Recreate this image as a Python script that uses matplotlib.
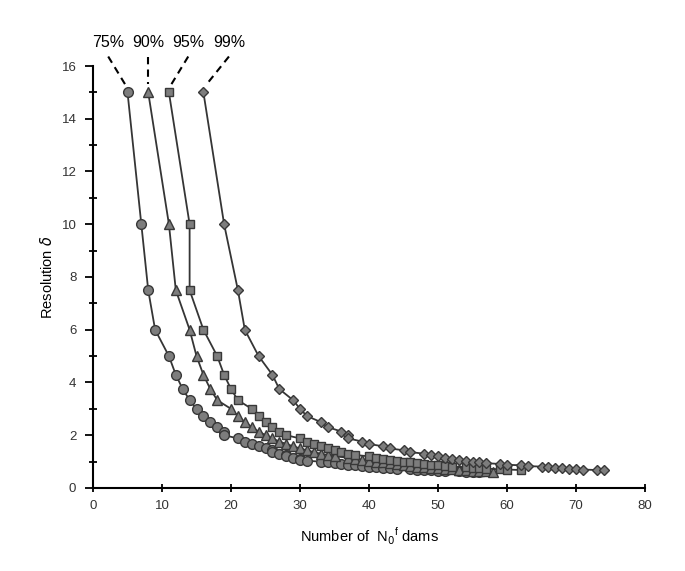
import matplotlib
matplotlib.use("Agg")
import matplotlib.pyplot as plt
from matplotlib.ticker import MultipleLocator

plt.rcParams['font.family'] = ['Liberation Sans', 'DejaVu Sans']

# resolution values (shared by all curves, read top to bottom)
delta = [15.0, 10.0, 7.5, 6.0, 5.0, 4.29, 3.75, 3.33, 3.0, 2.73, 2.5, 2.31, 2.14, 2.0,
         1.88, 1.76, 1.67, 1.58, 1.5, 1.43, 1.36, 1.3, 1.25, 1.2, 1.15, 1.11, 1.07, 1.03,
         1.0, 0.97, 0.94, 0.91, 0.88, 0.86, 0.83, 0.81, 0.79, 0.77, 0.75, 0.73, 0.71, 0.7,
         0.68, 0.67, 0.65, 0.64, 0.63, 0.61, 0.6, 0.59]

# number of dams for each resolution
dams_75 = [5, 7, 8, 9, 11, 12, 13, 14, 15, 16, 17, 18, 19, 19, 21, 22, 23, 24, 25, 26,
           26, 27, 28, 28, 29, 30, 30, 31, 33, 34, 35, 36, 37, 38, 39, 40, 41, 42, 43, 44,
           46, 47, 48, 49, 50, 51, 53, 54, 55, 56]
dams_90 = [8, 11, 12, 14, 15, 16, 17, 18, 20, 21, 22, 23, 24, 25, 26, 27, 28, 29, 30, 31,
           32, 33, 34, 35, 37, 38, 39, 40, 41, 42, 43, 44, 45, 45, 46, 47, 48, 49, 50, 51,
           52, 53, 53, 54, 55, 56, 57, 58]
dams_95 = [11, 14, 14, 16, 18, 19, 20, 21, 23, 24, 25, 26, 27, 28, 30, 31, 32, 33, 34, 35,
           36, 37, 38, 40, 41, 42, 43, 44, 45, 46, 47, 48, 49, 50, 51, 52, 54, 55, 56, 57,
           59, 60, 62]
dams_99 = [16, 19, 21, 22, 24, 26, 27, 29, 30, 31, 33, 34, 36, 37, 37, 39, 40, 42, 43, 45,
           46, 48, 49, 50, 51, 52, 53, 54, 55, 56, 57, 59, 60, 62, 63, 65, 66, 67, 68, 69,
           70, 71, 73, 74]

labels = ['75%', '90%', '95%', '99%']
series = [dams_75, dams_90, dams_95, dams_99]
markers = ['o', '^', 's', 'D']
msizes = [7, 7.5, 6, 5]
# label x positions (data units) for the dashed leader lines
label_x = [2.2, 8.0, 13.8, 19.7]

fig = plt.figure(figsize=(6.85, 5.71), dpi=100)
ax = fig.add_axes([0.1358, 0.1454, 0.8058, 0.739])

for xs, m, ms in zip(series, markers, msizes):
    ax.plot(xs, delta[:len(xs)], '-', color='#353535', lw=1.3,
            marker=m, markersize=ms, markerfacecolor='#7d7d7d',
            markeredgecolor='#383838', markeredgewidth=1.0, zorder=3)

# dashed leaders from each label down to the first point
for lab, lx, xs in zip(labels, label_x, series):
    ax.plot([lx, xs[0] + (lx - xs[0]) * 0.12], [16.36, 15.3], '--', color='black',
            lw=1.5, dashes=(3.5, 2.5), clip_on=False)
    ax.text(lx, 16.9, lab, ha='center', va='center', fontsize=11.5)

ax.set_xlim(0, 80)
ax.set_ylim(0, 16)
ax.xaxis.set_major_locator(MultipleLocator(10))
ax.yaxis.set_major_locator(MultipleLocator(2))
ax.yaxis.set_minor_locator(MultipleLocator(1))

ax.spines['top'].set_visible(False)
ax.spines['right'].set_visible(False)
ax.spines['left'].set_linewidth(1.5)
ax.spines['bottom'].set_linewidth(1.5)

ax.tick_params(axis='y', which='major', direction='out', length=6, width=1.3,
               labelsize=9.5, labelcolor='#333333', pad=6)
ax.tick_params(axis='y', which='minor', direction='inout', length=6, width=1.3)
ax.tick_params(axis='x', which='major', direction='inout', length=6, width=1.3,
               labelsize=9.5, labelcolor='#333333', pad=6)

ax.set_xlabel('Number of  N$_0$$^{\\mathregular{f}}$ dams', fontsize=10.5, labelpad=9.5)
ax.set_ylabel('Resolution $\\delta$', fontsize=10.5, labelpad=5)

fig.savefig('out.png', dpi=100)
